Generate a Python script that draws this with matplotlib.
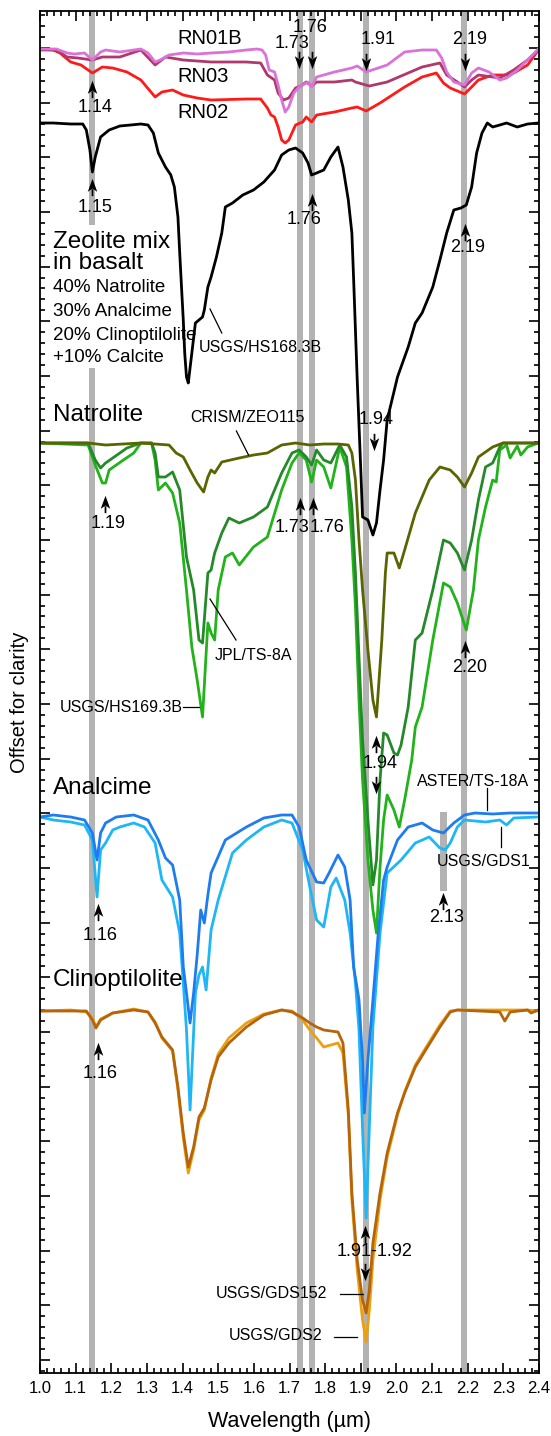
import matplotlib
matplotlib.use("Agg")
import matplotlib.pyplot as plt
from matplotlib.path import Path
from matplotlib.ticker import MultipleLocator, AutoMinorLocator, FormatStrFormatter

plt.rcParams['font.family'] = ['Liberation Sans', 'DejaVu Sans']

# ---------------- data: (wavelength um, offset reflectance in arbitrary units) ----------------
RN01B = [(1.000,1311),(1.046,1311),(1.076,1307),(1.096,1306),(1.125,1307),(1.147,1300),(1.170,1308),
         (1.184,1310),(1.224,1308),(1.244,1309),(1.283,1311),(1.303,1307),(1.323,1298),(1.337,1300),
         (1.362,1305),(1.402,1307),(1.441,1306),(1.480,1307),(1.530,1308),(1.579,1310),(1.609,1311),
         (1.623,1310),(1.633,1305),(1.643,1290),(1.658,1288),(1.668,1275),(1.678,1260),(1.688,1248),
         (1.698,1253),(1.712,1267),(1.727,1273),(1.737,1275),(1.752,1278),(1.762,1273),(1.776,1283),
         (1.826,1288),(1.875,1292),(1.890,1294),(1.915,1288),(1.974,1295),(2.023,1308),(2.072,1310),
         (2.112,1310),(2.127,1302),(2.141,1288),(2.161,1278),(2.191,1275),(2.211,1287),(2.230,1292),
         (2.260,1288),(2.290,1280),(2.309,1282),(2.339,1290),(2.368,1300),(2.398,1311)]
RN03 = [(1.000,1310),(1.046,1310),(1.076,1303),(1.106,1302),(1.147,1300),(1.175,1303),(1.224,1303),
        (1.283,1310),(1.323,1295),(1.352,1303),(1.402,1300),(1.480,1298),(1.579,1298),(1.619,1297),
        (1.638,1285),(1.658,1280),(1.668,1267),(1.683,1260),(1.698,1262),(1.717,1272),(1.732,1274),
        (1.747,1278),(1.762,1274),(1.776,1278),(1.826,1278),(1.875,1280),(1.885,1278),(1.924,1274),
        (1.974,1278),(2.072,1293),(2.122,1297),(2.141,1285),(2.171,1278),(2.191,1273),(2.211,1280),
        (2.230,1285),(2.270,1283),(2.290,1282),(2.329,1290),(2.368,1300),(2.398,1310)]
RN02 = [(1.000,1311),(1.037,1310),(1.056,1307),(1.086,1298),(1.115,1295),(1.147,1287),(1.175,1293),
        (1.204,1292),(1.244,1288),(1.283,1280),(1.323,1263),(1.342,1268),(1.372,1270),(1.402,1265),
        (1.441,1262),(1.480,1260),(1.579,1261),(1.619,1261),(1.638,1252),(1.648,1245),(1.658,1243),
        (1.668,1233),(1.678,1220),(1.688,1217),(1.698,1220),(1.717,1235),(1.737,1238),(1.747,1243),
        (1.762,1238),(1.776,1245),(1.826,1248),(1.875,1252),(1.890,1253),(1.915,1249),(1.954,1257),
        (2.023,1273),(2.072,1283),(2.112,1287),(2.132,1277),(2.151,1272),(2.191,1266),(2.211,1273),
        (2.230,1280),(2.270,1285),(2.319,1285),(2.368,1295),(2.398,1310)]
MIX = [(1.000,1237),(1.037,1237),(1.086,1236),(1.120,1236),(1.130,1230),(1.140,1210),(1.147,1188),
       (1.155,1203),(1.170,1223),(1.194,1230),(1.224,1234),(1.254,1235),(1.283,1236),(1.303,1235),
       (1.318,1227),(1.332,1207),(1.352,1193),(1.367,1185),(1.377,1173),(1.387,1143),(1.392,1107),
       (1.397,1073),(1.402,1040),(1.406,1007),(1.411,983),(1.416,977),(1.426,1007),(1.436,1037),
       (1.446,1040),(1.456,1043),(1.461,1050),(1.471,1073),(1.480,1083),(1.495,1103),(1.510,1127),
       (1.520,1153),(1.540,1157),(1.569,1165),(1.599,1170),(1.628,1178),(1.658,1190),(1.678,1205),
       (1.698,1210),(1.717,1212),(1.737,1207),(1.752,1197),(1.762,1185),(1.776,1187),(1.796,1190),
       (1.816,1203),(1.836,1213),(1.850,1193),(1.865,1160),(1.875,1127),(1.880,1080),(1.890,980),
       (1.900,890),(1.905,843),(1.920,840),(1.934,825),(1.944,837),(1.954,870),(1.964,900),
       (1.974,940),(2.003,983),(2.033,1013),(2.053,1037),(2.072,1047),(2.102,1073),(2.122,1100),
       (2.141,1127),(2.161,1150),(2.181,1152),(2.196,1155),(2.211,1173),(2.225,1207),(2.240,1227),
       (2.255,1237),(2.270,1233),(2.290,1235),(2.309,1237),(2.339,1233),(2.368,1236),(2.398,1237)]
CRISM_ZEO115 = [(1.000,917),(1.135,917),(1.184,915),(1.283,917),(1.362,915),(1.382,907),(1.402,903),
                (1.421,890),(1.441,877),(1.459,868),(1.471,883),(1.480,890),(1.490,887),(1.510,898),
                (1.559,902),(1.599,905),(1.638,907),(1.678,915),(1.717,917),(1.757,915),(1.796,916),
                (1.836,916),(1.865,915),(1.875,907),(1.885,880),(1.895,820),(1.905,770),(1.920,710),
                (1.934,660),(1.944,643),(1.959,720),(1.969,787),(1.974,807),(1.993,807),(2.008,792),
                (2.023,810),(2.053,847),(2.092,880),(2.122,893),(2.151,890),(2.171,883),(2.191,873),
                (2.211,887),(2.230,903),(2.270,913),(2.299,917),(2.398,917)]
JPL_TS8A = [(1.000,917),(1.135,917),(1.155,900),(1.170,892),(1.184,897),(1.204,902),(1.244,912),
            (1.283,917),(1.313,917),(1.323,907),(1.332,883),(1.352,883),(1.372,888),(1.392,870),
            (1.411,803),(1.431,770),(1.446,720),(1.456,717),(1.471,787),(1.480,790),(1.490,807),
            (1.510,827),(1.530,842),(1.559,837),(1.599,843),(1.638,853),(1.678,887),(1.707,907),
            (1.727,910),(1.747,903),(1.762,895),(1.776,910),(1.796,900),(1.816,897),(1.841,915),
            (1.860,903),(1.875,853),(1.885,787),(1.895,703),(1.905,620),(1.920,540),(1.934,475),
            (1.944,500),(1.954,580),(1.964,627),(1.974,625),(1.993,607),(2.003,605),(2.013,615),
            (2.033,653),(2.053,720),(2.072,727),(2.102,770),(2.132,820),(2.151,817),(2.171,807),
            (2.191,790),(2.211,820),(2.230,860),(2.250,893),(2.270,897),(2.290,913),(2.299,917),
            (2.398,917)]
USGS_HS169 = [(1.000,917),(1.135,915),(1.155,895),(1.175,877),(1.184,877),(1.194,890),(1.214,895),
              (1.234,900),(1.263,907),(1.283,917),(1.313,917),(1.323,900),(1.332,870),(1.352,877),
              (1.372,867),(1.392,837),(1.411,770),(1.426,713),(1.441,680),(1.456,643),(1.471,737),
              (1.480,727),(1.490,720),(1.500,770),(1.520,803),(1.540,807),(1.559,795),(1.599,813),
              (1.638,823),(1.678,870),(1.707,897),(1.727,907),(1.747,900),(1.762,878),(1.776,900),
              (1.796,893),(1.816,872),(1.841,913),(1.860,893),(1.875,820),(1.885,753),(1.895,660),
              (1.905,580),(1.920,500),(1.934,450),(1.944,427),(1.954,493),(1.964,540),(1.974,565),
              (1.993,550),(2.008,533),(2.023,560),(2.043,600),(2.053,633),(2.072,653),(2.102,720),
              (2.132,777),(2.151,773),(2.171,757),(2.196,730),(2.216,770),(2.230,820),(2.250,853),
              (2.270,880),(2.280,878),(2.290,910),(2.309,915),(2.319,902),(2.339,914),(2.349,905),
              (2.368,913),(2.398,917)]
ASTER_TS18A = [(1.000,543),(1.037,545),(1.086,543),(1.125,540),(1.147,527),(1.160,500),(1.170,527),
               (1.184,537),(1.214,543),(1.263,545),(1.303,540),(1.332,520),(1.352,502),(1.372,495),
               (1.392,460),(1.402,393),(1.411,367),(1.421,337),(1.431,367),(1.441,405),(1.451,450),
               (1.461,437),(1.471,465),(1.480,487),(1.520,520),(1.579,533),(1.628,542),(1.678,545),
               (1.707,545),(1.727,533),(1.747,500),(1.776,478),(1.796,477),(1.811,487),(1.836,505),
               (1.855,493),(1.870,460),(1.880,393),(1.895,360),(1.905,300),(1.910,247),(1.920,300),
               (1.934,360),(1.949,427),(1.964,480),(1.974,493),(2.003,520),(2.033,533),(2.072,537),
               (2.102,530),(2.132,527),(2.161,537),(2.191,545),(2.220,547),(2.270,546),(2.319,547),
               (2.398,547)]
USGS_GDS1 = [(1.000,543),(1.037,540),(1.086,538),(1.125,535),(1.147,520),(1.160,463),(1.170,510),
             (1.184,517),(1.204,530),(1.224,533),(1.263,537),(1.293,533),(1.323,517),(1.342,480),
             (1.372,463),(1.392,427),(1.402,377),(1.411,330),(1.421,250),(1.436,367),(1.446,385),
             (1.456,393),(1.466,370),(1.480,430),(1.500,460),(1.540,507),(1.579,520),(1.628,533),
             (1.678,540),(1.707,537),(1.737,510),(1.757,473),(1.776,440),(1.796,433),(1.816,473),
             (1.831,482),(1.855,460),(1.870,427),(1.885,377),(1.895,330),(1.905,230),(1.915,142),
             (1.924,233),(1.934,333),(1.954,427),(1.974,487),(2.013,500),(2.053,517),(2.092,523),
             (2.122,512),(2.137,510),(2.151,517),(2.171,533),(2.191,540),(2.250,538),(2.290,540),
             (2.309,535),(2.329,542),(2.398,543)]
USGS_GDS152 = [(1.000,349),(1.086,349),(1.130,349),(1.147,340),(1.157,332),(1.170,340),(1.204,347),
               (1.263,350),(1.303,348),(1.323,337),(1.342,323),(1.372,310),(1.387,273),(1.402,227),
               (1.416,193),(1.431,213),(1.446,243),(1.461,252),(1.480,280),(1.500,303),(1.530,317),
               (1.579,333),(1.628,345),(1.678,350),(1.707,348),(1.737,342),(1.757,337),(1.776,333),
               (1.796,330),(1.836,328),(1.850,317),(1.865,250),(1.875,167),(1.890,100),(1.905,60),
               (1.915,47),(1.924,70),(1.934,117),(1.954,167),(1.974,207),(2.003,247),(2.023,267),
               (2.053,293),(2.082,310),(2.122,333),(2.151,348),(2.171,350),(2.290,348),(2.304,339),
               (2.319,348),(2.368,350),(2.378,347),(2.398,350)]
USGS_GDS2 = [(1.000,349),(1.086,350),(1.130,348),(1.147,342),(1.157,333),(1.170,341),(1.204,347),
             (1.263,351),(1.303,348),(1.323,338),(1.342,322),(1.372,309),(1.387,270),(1.402,222),
             (1.416,187),(1.431,210),(1.446,240),(1.461,250),(1.480,282),(1.500,306),(1.530,322),
             (1.579,337),(1.628,346),(1.678,350),(1.707,349),(1.737,340),(1.757,330),(1.776,322),
             (1.796,313),(1.816,315),(1.836,317),(1.850,307),(1.865,245),(1.875,160),(1.890,90),
             (1.905,40),(1.915,18),(1.924,50),(1.934,100),(1.954,160),(1.974,203),(2.003,245),
             (2.023,268),(2.053,295),(2.082,312),(2.122,335),(2.151,349),(2.171,350),(2.290,350),
             (2.319,350),(2.368,350),(2.398,349)]

# grey marker bars (um)
BANDS = [(1.138, 1.155), (1.720, 1.737), (1.754, 1.771), (1.907, 1.922), (2.182, 2.199)]
BAND_213 = (2.123, 2.141)

# ---------------- figure ----------------
W, H = 551, 1436
fig = plt.figure(figsize=(W / 100, H / 100), dpi=100)
ax = fig.add_axes([40 / W, 63 / H, 499 / W, 1362 / H])
YLO, YHI = -13, 1349
ax.set_xlim(1.0, 2.4)
ax.set_ylim(YLO, YHI)

def yfrac(v):
    return (v - YLO) / (YHI - YLO)

GREY = '#b3b3b3'
for i, (a, b) in enumerate(BANDS):
    if i == 0:
        ax.axvspan(a, b, ymin=yfrac(1135), ymax=1, color=GREY, lw=0, zorder=0.5)
        ax.axvspan(a, b, ymin=0, ymax=yfrac(992), color=GREY, lw=0, zorder=0.5)
    else:
        ax.axvspan(a, b, color=GREY, lw=0, zorder=0.5)
ax.fill_betweenx([469, 548], BAND_213[0], BAND_213[1], color=GREY, lw=0, zorder=0.5)

series = [
    (RN02, '#ff1a1a'), (RN03, '#b0386a'), (RN01B, '#da72d8'),
    (MIX, 'black'),
    (USGS_HS169, '#22b31a'), (JPL_TS8A, '#25892a'), (CRISM_ZEO115, '#5a6400'),
    (USGS_GDS1, '#1eb6f5'), (ASTER_TS18A, '#1e7cf0'),
    (USGS_GDS2, '#eba012'), (USGS_GDS152, '#b5640c'),
]
for data, col in series:
    xs = [p[0] for p in data]
    ys = [p[1] for p in data]
    ax.plot(xs, ys, color=col, lw=2.0, zorder=2, solid_joinstyle='round')

# ---------------- ticks ----------------
ax.xaxis.set_major_locator(MultipleLocator(0.1))
ax.xaxis.set_minor_locator(MultipleLocator(0.02))
ax.yaxis.set_major_locator(MultipleLocator(54.67))
ax.yaxis.set_minor_locator(AutoMinorLocator(5))
ax.tick_params(which='both', direction='in', top=True, right=True, width=1.2, color='black')
ax.tick_params(which='major', length=7.5)
ax.tick_params(which='minor', length=3.8)
ax.tick_params(axis='y', labelleft=False)
ax.tick_params(axis='x', labelsize=12, pad=6)
ax.xaxis.set_major_formatter(FormatStrFormatter('%.1f'))
for s in ax.spines.values():
    s.set_linewidth(1.3)

fig.text(289 / W, 1 - 1421 / H, 'Wavelength (µm)', ha='center', va='center', fontsize=15.5)
fig.text(20 / W, 1 - 702 / H, 'Offset for clarity', ha='center', va='center',
         rotation=90, fontsize=14.5)

# ---------------- annotations ----------------
BIG = [("Zeolite mix", 1.037, 1118), ("in basalt", 1.037, 1097), ("Natrolite", 1.037, 945),
       ("Analcime", 1.037, 572), ("Clinoptilolite", 1.035, 380)]
for t, x, y in BIG:
    ax.text(x, y, t, fontsize=17.5, ha='left', va='center', zorder=4)
MIXTXT = [("40% Natrolite", 1072), ("30% Analcime", 1048), ("20% Clinoptilolite", 1025),
          ("+10% Calcite", 1003)]
for t, y in MIXTXT:
    ax.text(1.037, y, t, fontsize=13.5, ha='left', va='center', zorder=4)
for t, y in [("RN01B", 1321), ("RN03", 1284), ("RN02", 1247)]:
    ax.text(1.385, y, t, fontsize=14.5, ha='left', va='center', zorder=4)

NUMS = [("1.14", 1.155, 1253), ("1.15", 1.155, 1152), ("1.73", 1.707, 1317), ("1.76", 1.758, 1333),
        ("1.91", 1.949, 1320), ("2.19", 2.206, 1320), ("1.76", 1.742, 1140), ("2.19", 2.201, 1113),
        ("1.94", 1.944, 940), ("1.19", 1.190, 837), ("1.73", 1.707, 832), ("1.76", 1.806, 832),
        ("2.20", 2.206, 692), ("1.94", 1.954, 597), ("2.13", 2.141, 443), ("1.16", 1.170, 425),
        ("1.16", 1.170, 287), ("1.91-1.92", 1.939, 108)]
for t, x, y in NUMS:
    ax.text(x, y, t, fontsize=13, ha='center', va='center', zorder=4)

SMALL = [("USGS/HS168.3B", 1.446, 1013, 'left'), ("CRISM/ZEO115", 1.421, 943, 'left'),
         ("JPL/TS-8A", 1.490, 705, 'left'), ("USGS/HS169.3B", 1.400, 653, 'right'),
         ("ASTER/TS-18A", 2.058, 578, 'left'), ("USGS/GDS1", 2.112, 498, 'left'),
         ("USGS/GDS152", 1.806, 67, 'right'), ("USGS/GDS2", 1.791, 25, 'right')]
for t, x, y, ha in SMALL:
    ax.text(x, y, t, fontsize=11.5, ha=ha, va='center', zorder=4)

LEADERS = [((1.510, 1027), (1.477, 1051)), ((1.551, 929), (1.585, 905)),
           ((1.550, 720), (1.477, 761)), ((1.402, 653), (1.446, 653)),
           ((2.253, 572), (2.253, 550)), ((2.294, 533), (2.294, 513)),
           ((1.841, 66), (1.905, 66)), ((1.826, 23), (1.890, 23))]
for (x0, y0), (x1, y1) in LEADERS:
    ax.plot([x0, x1], [y0, y1], color='black', lw=0.9, zorder=3)

def arrow_path(up=True):
    s = 1 if up else -1
    verts = [(0, 1 * s), (0.55, -0.5 * s), (0, -0.12 * s), (-0.55, -0.5 * s), (0, 1 * s),
             (-0.1, -0.2 * s), (0.1, -0.2 * s), (0.1, -1 * s), (-0.1, -1 * s), (-0.1, -0.2 * s)]
    codes = [Path.MOVETO, Path.LINETO, Path.LINETO, Path.LINETO, Path.CLOSEPOLY,
             Path.MOVETO, Path.LINETO, Path.LINETO, Path.LINETO, Path.CLOSEPOLY]
    return Path(verts, codes)

ARROWS = [(1.147, 1280, 'up'), (1.147, 1182, 'up'), (1.727, 1292, 'down'), (1.762, 1292, 'down'),
          (1.915, 1290, 'down'), (2.191, 1290, 'down'), (1.762, 1167, 'up'), (2.191, 1137, 'up'),
          (1.936, 910, 'down'), (1.182, 865, 'up'), (1.730, 863, 'up'), (1.767, 863, 'up'),
          (2.193, 720, 'up'), (1.944, 625, 'up'), (1.944, 567, 'down'), (2.132, 468, 'up'),
          (1.162, 457, 'up'), (1.162, 318, 'up'), (1.913, 135, 'up'), (1.913, 80, 'down')]
ALEN = 17
for x, tip, d in ARROWS:
    up = d == 'up'
    yc = tip - ALEN / 2 if up else tip + ALEN / 2
    ax.plot([x], [yc], marker=arrow_path(up), markersize=12.5, color='black',
            markeredgewidth=0, linestyle='none', zorder=5)

fig.savefig('out.png', dpi=100)
